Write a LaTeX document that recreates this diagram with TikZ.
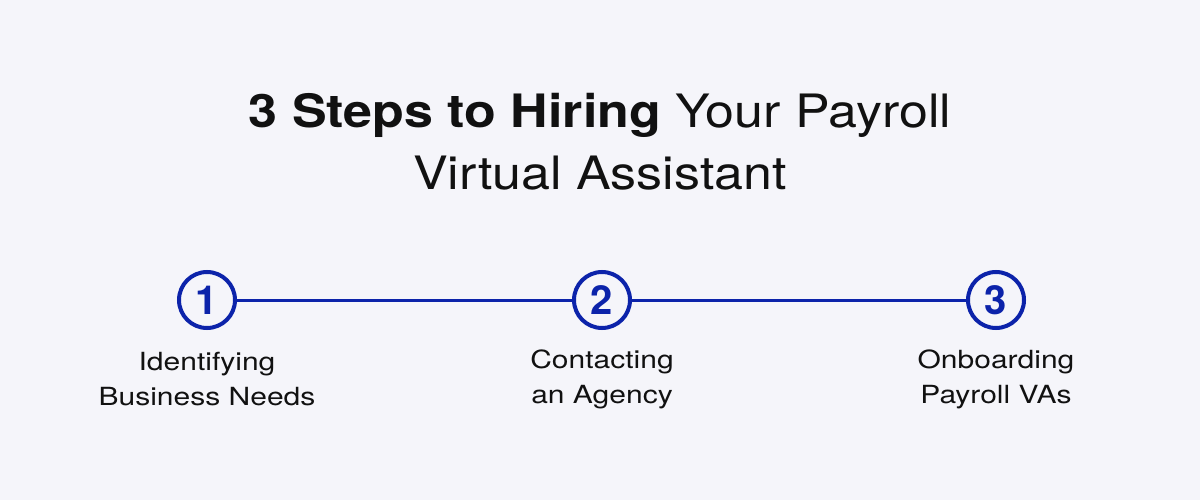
\documentclass[tikz,border=0pt]{standalone}
\usepackage{fontspec}
\setmainfont{TeX Gyre Heros}
\newfontfamily\titlefont{TeX Gyre Heros}[FakeStretch=1.13]
\newfontfamily\labelfont{TeX Gyre Heros}[FakeStretch=1.2]
\definecolor{bg}{HTML}{F5F5FA}
\definecolor{stepblue}{HTML}{0C23AA}
\definecolor{ink}{HTML}{111111}
\begin{document}
\begin{tikzpicture}[x=1pt,y=-1pt,
  stepcircle/.style={circle,draw=stepblue,line width=4pt,minimum size=56pt,inner sep=0pt,text=stepblue,font=\fontsize{40}{40}\selectfont\bfseries},
  link/.style={draw=stepblue,line width=3pt},
  steplabel/.style={align=center,text=ink,font=\labelfont\fontsize{25}{35}\selectfont},
  titletext/.style={align=center,text=ink,font=\titlefont\fontsize{46}{62}\selectfont}]
\fill[bg] (0,0) rectangle (1200,500);
\useasboundingbox (0,0) rectangle (1200,500);
\node[titletext] (title) at (600,142) {\textbf{3 Steps to Hiring} Your Payroll\\Virtual Assistant};
\node[stepcircle] (c1) at (207,300) {1};
\node[stepcircle] (c2) at (602,300) {2};
\node[stepcircle] (c3) at (996,300) {3};
\draw[link] (c1) -- (c2);
\draw[link] (c2) -- (c3);
\node[steplabel] (l1) at (207,379) {Identifying\\Business Needs};
\node[steplabel] (l2) at (602,379) {Contacting\\an Agency};
\node[steplabel] (l3) at (996,379) {Onboarding\\Payroll VAs};
\end{tikzpicture}
\end{document}
